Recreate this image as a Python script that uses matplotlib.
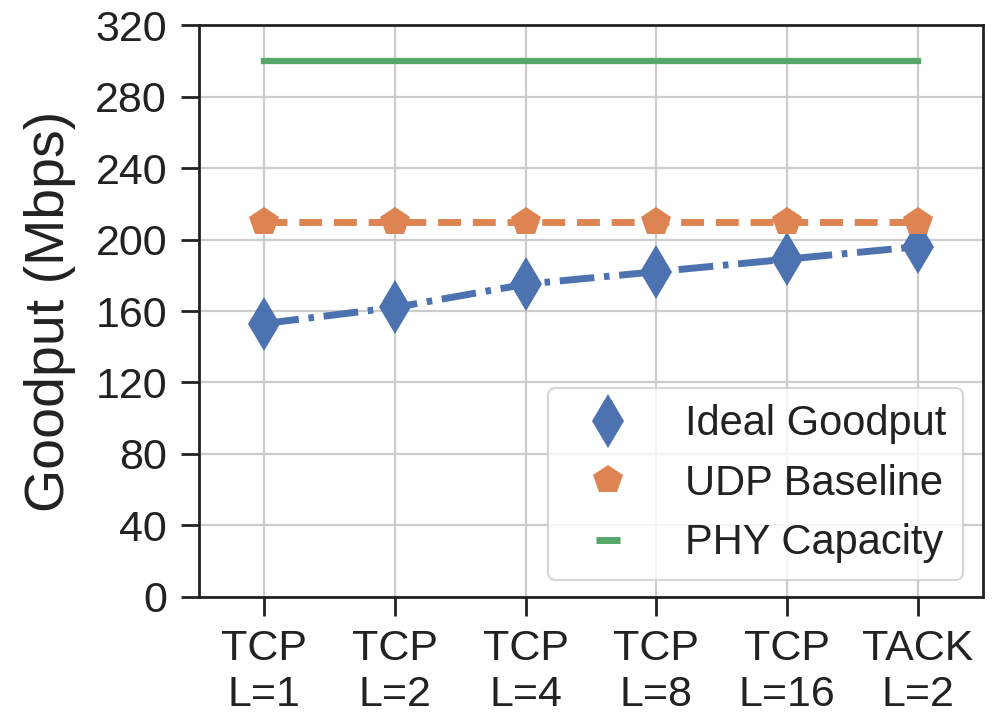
import matplotlib
matplotlib.use("Agg")
import matplotlib.pyplot as plt
from matplotlib.lines import Line2D
import seaborn as sns

categories = ["TCP\nL=1", "TCP\nL=2", "TCP\nL=4", "TCP\nL=8", "TCP\nL=16", "TACK\nL=2"]
ideal_goodput = [153, 162, 175, 182, 189, 196]
udp_baseline = [210, 210, 210, 210, 210, 210]
phy_capacity = [300, 300, 300, 300, 300, 300]
yticks = [0, 40, 80, 120, 160, 200, 240, 280, 320]

sns.set_theme(style="whitegrid")
plt.rcParams['font.family'] = ['Liberation Sans', 'DejaVu Sans']

fig = plt.figure(figsize=(9.99, 7.21), dpi=100)
ax = fig.add_axes([0.1992, 0.1720, 0.7848, 0.7933])

pal = sns.color_palette("deep")
x = list(range(len(categories)))
ax.plot(x, ideal_goodput, color=pal[0], linestyle=(0, (5, 1.4, 0.8, 1.4)), linewidth=5,
        marker='d', markersize=27, markeredgewidth=0)
ax.plot(x, udp_baseline, color=pal[1], linestyle=(0, (3.3, 1.7)), linewidth=5,
        marker='p', markersize=22, markeredgewidth=0)
ax.plot(x, phy_capacity, color=pal[2], linestyle='-', linewidth=4.5,
        solid_capstyle='projecting')

ax.set_xlim(-0.5, 5.5)
ax.set_ylim(0, 320)
ax.set_yticks(yticks)
ax.set_xticks(x)
ax.set_xticklabels(categories, fontsize=31, color='#222222', linespacing=1.2)
ax.tick_params(axis='y', labelsize=31, labelcolor='#222222', left=True, length=13, width=2,
               color='#222222', pad=10)
ax.tick_params(axis='x', bottom=True, length=14, width=2, color='#222222', pad=9)
ax.set_ylabel("Goodput (Mbps)", fontsize=40, color='#222222', labelpad=14)
for s in ax.spines.values():
    s.set_color('#222222')
    s.set_linewidth(2)
ax.grid(True, color='#cccccc', linewidth=1.6)

handles = [
    Line2D([], [], color=pal[0], linestyle='none', marker='d', markersize=27, markeredgewidth=0),
    Line2D([], [], color=pal[1], linestyle='none', marker='p', markersize=22, markeredgewidth=0),
    Line2D([], [], color=pal[2], linestyle='none', marker='_', markersize=17, markeredgewidth=5),
]
labels = ["Ideal Goodput", "UDP Baseline", "PHY Capacity"]
leg = ax.legend(handles, labels, loc='lower right', bbox_to_anchor=(0.9745, 0.0297),
                fontsize=30, handlelength=2.1, handletextpad=0.8,
                borderpad=0.4, labelspacing=0.47, frameon=True, borderaxespad=0)
leg.get_frame().set_edgecolor('#cccccc')
leg.get_frame().set_linewidth(1.5)
for t in leg.get_texts():
    t.set_color('#222222')

fig.savefig("out.png", dpi=100)
